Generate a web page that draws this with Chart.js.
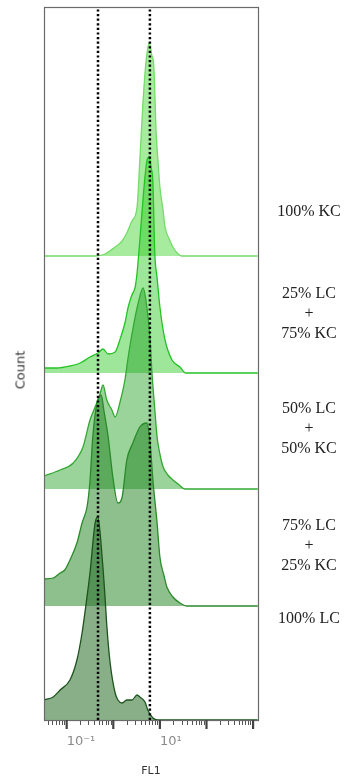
<!DOCTYPE html>
<html>
<head>
<meta charset="utf-8">
<script src="https://cdn.jsdelivr.net/npm/chart.js@4.4.1/dist/chart.umd.min.js"></script>
<style>
  html, body { margin: 0; padding: 0; background: #fff; }
  #wrap { position: relative; width: 344px; height: 780px; }
  #wrap canvas { position: absolute; left: 0; top: 0; }
  .ylab {
    position: absolute; left: 20px; top: 370px;
    transform: translate(-50%, -50%) rotate(-90deg);
    font: 13px "DejaVu Sans", sans-serif; color: #333;
  }
  .sample {
    position: absolute; left: 309px; transform: translate(-50%, -50%);
    font: 16px "Liberation Serif", serif; color: #222;
    text-align: center; line-height: 20px; white-space: nowrap;
  }
</style>
</head>
<body>
<div id="wrap">
  <canvas id="hist" width="344" height="780"></canvas>
  <div class="ylab">Count</div>
</div>
<script>
// FL1 positions are stored as log10(FL1), counts per sample on the same points
const kcLog    = [-1.49, -0.39, -0.18, 0.04, 0.19, 0.29, 0.40, 0.51, 0.57, 0.64, 0.70, 0.77, 0.83, 0.87, 0.92, 0.96, 1.00, 1.07, 1.11, 1.20, 1.28, 1.37, 1.47, 3.10];
const kcCount  = [0, 0, 2, 9, 15, 23, 35, 49, 96, 156, 193, 213, 200, 189, 123, 95, 69, 45, 29, 17, 9, 3, 0, 0];

const lc25Log   = [-1.49, -1.21, -0.93, -0.71, -0.50, -0.33, -0.22, -0.11, 0.04, 0.14, 0.25, 0.32, 0.40, 0.47, 0.51, 0.57, 0.64, 0.68, 0.72, 0.77, 0.81, 0.85, 0.89, 0.94, 1.00, 1.11, 1.26, 1.43, 1.56, 3.10];
const lc25Count = [5, 5, 7, 10, 16, 20, 24, 19, 21, 33, 50, 66, 78, 86, 100, 133, 175, 196, 212, 216, 206, 190, 120, 95, 66, 33, 13, 6, 0, 0];

const lc50Log   = [-1.49, -1.14, -0.86, -0.65, -0.50, -0.39, -0.29, -0.22, -0.14, -0.03, 0.04, 0.14, 0.25, 0.32, 0.42, 0.53, 0.64, 0.72, 0.79, 0.83, 0.89, 0.94, 1.00, 1.07, 1.17, 1.28, 1.39, 1.54, 3.10];
const lc50Count = [13, 19, 26, 42, 69, 82, 94, 104, 89, 79, 72, 86, 109, 132, 160, 185, 201, 182, 149, 116, 80, 52, 35, 22, 14, 9, 5, 0, 0];

const lc75Log   = [-1.49, -1.29, -1.14, -1.04, -0.93, -0.78, -0.67, -0.56, -0.50, -0.44, -0.35, -0.26, -0.20, -0.11, -0.01, 0.10, 0.19, 0.29, 0.42, 0.57, 0.72, 0.79, 0.85, 0.94, 1.00, 1.09, 1.15, 1.28, 1.43, 1.58, 3.10];
const lc75Count = [27, 28, 33, 36, 46, 63, 83, 100, 125, 169, 203, 211, 195, 169, 129, 103, 109, 146, 163, 179, 183, 163, 126, 83, 49, 30, 19, 9, 3, 0, 0];

const lcLog    = [-1.49, -1.29, -1.14, -0.93, -0.78, -0.67, -0.61, -0.50, -0.39, -0.33, -0.24, -0.18, -0.14, -0.07, 0.04, 0.10, 0.19, 0.29, 0.40, 0.51, 0.57, 0.68, 0.74, 0.85, 0.96, 3.10];
const lcCount  = [20, 23, 30, 40, 60, 87, 107, 147, 197, 203, 163, 125, 95, 58, 27, 20, 17, 20, 20, 25, 23, 18, 10, 2, 0, 0];

// stacking offsets, bottom lane first
const laneBase = [0, 114, 231, 347, 464];
const yMax = 713;

const gateFL1 = [0.47, 6.1];
const fl1Min = 0.0326, fl1Max = 1274;
const tickDecades = [-2, -1, 0, 1, 2, 3];
const labelDecades = [-1, 1];
const labelText = ["10\u207B\u00B9", "10\u00B9"];

const sampleNames = ["100% LC", "75% LC\n+\n25% KC", "50% LC\n+\n50% KC", "25% LC\n+\n75% KC", "100% KC"];
const sampleLabelY = [618, 545, 428, 313, 211];

// --- sample labels on the right ---
const wrap = document.getElementById("wrap");
sampleNames.forEach((name, i) => {
  const el = document.createElement("div");
  el.className = "sample";
  el.style.top = sampleLabelY[i] + "px";
  el.innerHTML = name.split("\n").join("<br>");
  wrap.appendChild(el);
});

function toPoints(logs, counts, base) {
  return logs.map((d, i) => ({ x: Math.pow(10, d), y: base + counts[i] }));
}

function histDataset(logs, counts, lane, fill, line) {
  return {
    data: toPoints(logs, counts, laneBase[lane]),
    borderColor: line,
    backgroundColor: fill,
    borderWidth: 1.3,
    fill: { value: laneBase[lane] },
    pointRadius: 0,
    cubicInterpolationMode: "monotone",
  };
}

const gateSets = gateFL1.map((g) => ({
  data: [{ x: g, y: 0 }, { x: g, y: yMax }],
  borderColor: "#000",
  borderWidth: 2.5,
  borderDash: [2.2, 2.4],
  borderCapStyle: "butt",
  pointRadius: 0,
  fill: false,
}));

// first dataset ends up on top
const datasets = [
  ...gateSets,
  histDataset(lcLog, lcCount, 0, "rgba(40,110,40,0.55)", "#1d541d"),
  histDataset(lc75Log, lc75Count, 1, "rgba(30,130,30,0.5)", "#2a8a2a"),
  histDataset(lc50Log, lc50Count, 2, "rgba(30,160,30,0.45)", "#33a833"),
  histDataset(lc25Log, lc25Count, 3, "rgba(40,200,30,0.45)", "#22c422"),
  histDataset(kcLog, kcCount, 4, "rgba(60,210,40,0.45)", "#74dc68"),
];

const tickValues = [];
tickDecades.forEach((n) => {
  for (let k = 1; k <= 9; k++) {
    const v = k * Math.pow(10, n);
    if (v >= fl1Min && v <= fl1Max) tickValues.push(v);
  }
});

function decadeIndex(v) {
  return labelDecades.findIndex((d) => Math.abs(Math.log10(v) - d) < 1e-6);
}
function isDecade(v) {
  const l = Math.log10(v);
  return Math.abs(l - Math.round(l)) < 1e-6;
}

// plot frame plus longer marks at each decade
const framePlugin = {
  id: "frame",
  afterDatasetsDraw(chart) {
    const a = chart.chartArea;
    const ctx = chart.ctx;
    const xs = chart.scales.x;
    ctx.save();
    ctx.strokeStyle = "#6a6a6a";
    ctx.lineWidth = 1.2;
    ctx.strokeRect(a.left + 0.5, a.top + 0.5, a.right - a.left, a.bottom - a.top);
    ctx.strokeStyle = "#444";
    ctx.lineWidth = 2.2;
    tickValues.filter(isDecade).forEach((v) => {
      const px = xs.getPixelForValue(v);
      ctx.beginPath();
      ctx.moveTo(px, a.bottom);
      ctx.lineTo(px, a.bottom + 9);
      ctx.stroke();
    });
    ctx.restore();
  },
};

new Chart(document.getElementById("hist"), {
  type: "line",
  data: { datasets },
  plugins: [framePlugin],
  options: {
    responsive: false,
    animation: false,
    devicePixelRatio: 1,
    layout: { padding: { left: 44, right: 86, top: 7, bottom: 0 } },
    plugins: { legend: { display: false }, tooltip: { enabled: false } },
    scales: {
      x: {
        type: "logarithmic",
        min: fl1Min,
        max: fl1Max,
        afterBuildTicks(scale) {
          scale.ticks = tickValues.map((v) => ({ value: v }));
        },
        afterFit(scale) {
          scale.height = 60;
        },
        border: { display: false },
        grid: {
          drawOnChartArea: false,
          drawTicks: true,
          tickLength: 5,
          tickColor: "#555",
          tickWidth: 1,
        },
        ticks: {
          autoSkip: false,
          maxRotation: 0,
          align: "start",
          padding: 9,
          color: "#8a8a8a",
          font: { family: "DejaVu Sans", size: 13 },
          callback(value) {
            const i = decadeIndex(value);
            return i >= 0 ? labelText[i] : "";
          },
        },
        title: {
          display: true,
          text: "FL1",
          color: "#333",
          font: { family: "DejaVu Sans", size: 11 },
          padding: { top: 0, bottom: 2 },
        },
      },
      y: { type: "linear", min: 0, max: yMax, display: false },
    },
  },
});
</script>
</body>
</html>
